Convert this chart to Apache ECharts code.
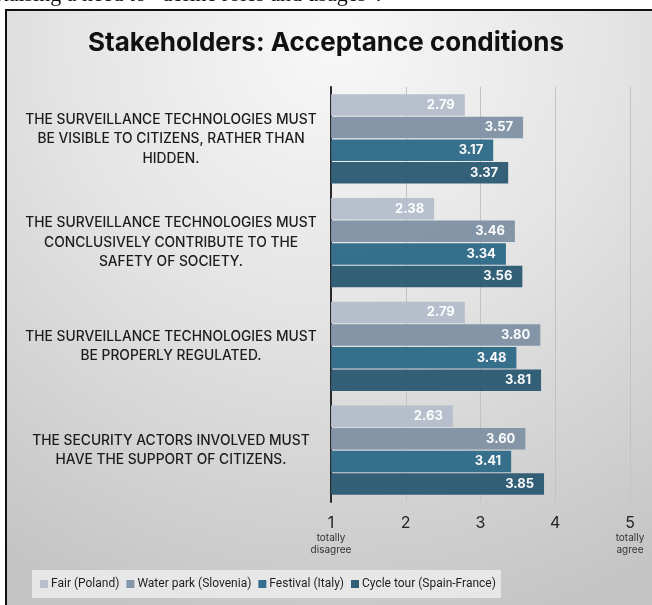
<!DOCTYPE html>
<html>
<head>
<meta charset="utf-8">
<script src="https://cdn.jsdelivr.net/npm/echarts@6/dist/echarts.min.js"></script>
<style>
  html, body { margin: 0; padding: 0; background: #ffffff; }
  #chart { width: 652px; height: 605px; }
</style>
</head>
<body>
<div id="chart"></div>
<script>
// Statements rated by stakeholders (1 = totally disagree, 5 = totally agree)
const categories = [
  'THE SURVEILLANCE TECHNOLOGIES MUST\nBE VISIBLE TO CITIZENS, RATHER THAN\nHIDDEN.',
  'THE SURVEILLANCE TECHNOLOGIES MUST\nCONCLUSIVELY CONTRIBUTE TO THE\nSAFETY OF SOCIETY.',
  'THE SURVEILLANCE TECHNOLOGIES MUST\nBE PROPERLY REGULATED.',
  'THE SECURITY ACTORS INVOLVED MUST\nHAVE THE SUPPORT OF CITIZENS.'
];

const seriesNames = ['Fair (Poland)', 'Water park (Slovenia)', 'Festival (Italy)', 'Cycle tour (Spain-France)'];

const fairPoland = [2.79, 2.38, 2.79, 2.63];
const waterParkSlovenia = [3.57, 3.46, 3.80, 3.60];
const festivalItaly = [3.17, 3.34, 3.48, 3.41];
const cycleTourSpainFrance = [3.37, 3.56, 3.81, 3.85];

const scaleTicks = { 1: 'totally\ndisagree', 5: 'totally\nagree' };

const seriesValues = [fairPoland, waterParkSlovenia, festivalItaly, cycleTourSpainFrance];
const seriesColors = ['#b5bdcb', '#7f92a4', '#2f6a87', '#2c5b73'];

const chart = echarts.init(document.getElementById('chart'), null, { renderer: 'canvas' });

const series = seriesNames.map((name, i) => ({
  name: name,
  type: 'bar',
  data: seriesValues[i],
  barGap: '5%',
  barCategoryGap: '14%',
  itemStyle: { color: seriesColors[i], opacity: 0.96 },
  label: {
    show: true,
    position: 'insideRight',
    distance: 10,
    color: '#ffffff',
    fontFamily: 'Inter',
    fontWeight: 'bold',
    fontSize: 13,
    formatter: p => p.value.toFixed(2)
  }
}));

chart.setOption({
  animation: false,
  backgroundColor: '#ffffff',
  graphic: [
    {
      type: 'rect',
      z: -10,
      silent: true,
      shape: { x: 6, y: 10, width: 660, height: 610 },
      style: {
        fill: new echarts.graphic.RadialGradient(0.5, 0.05, 1.0, [
          { offset: 0, color: '#f8f8f8' },
          { offset: 0.45, color: '#e4e4e4' },
          { offset: 1, color: '#c4c4c4' }
        ]),
        stroke: '#111111',
        lineWidth: 2
      }
    },
    {
      type: 'text',
      silent: true,
      left: -6,
      top: -16,
      style: {
        text: 'Raising a need to \u201cdefine roles and usages\u201d.',
        font: '22px "Liberation Serif"',
        fill: '#111111'
      }
    }
  ],
  title: {
    text: 'Stakeholders: Acceptance conditions',
    left: 'center',
    top: 25,
    textStyle: {
      fontFamily: 'Inter',
      fontWeight: 'bold',
      fontSize: 26,
      color: '#111111'
    }
  },
  legend: {
    data: seriesNames,
    left: 32,
    top: 570,
    itemWidth: 8,
    itemHeight: 8,
    itemGap: 7,
    icon: 'rect',
    padding: [7, 5, 7, 8],
    backgroundColor: 'rgba(236,236,236,0.85)',
    textStyle: {
      fontFamily: 'Roboto',
      fontSize: 12,
      lineHeight: 14,
      color: '#1e1e1e',
      padding: [0, 0, 0, -2]
    }
  },
  grid: {
    left: 331,
    right: 22,
    top: 87,
    bottom: 103,
    containLabel: false
  },
  xAxis: {
    type: 'value',
    min: 1,
    max: 5,
    interval: 1,
    axisLine: { show: false },
    axisTick: { show: false },
    splitLine: { show: true, lineStyle: { color: '#c2c2c2', width: 1 } },
    axisLabel: {
      margin: 12,
      verticalAlign: 'top',
      lineHeight: 18,
      formatter: v => scaleTicks[v] ? v + '\n{s|' + scaleTicks[v].replace('\n', '}\n{s|') + '}' : String(v),
      fontFamily: 'Inter',
      fontSize: 16,
      color: '#222222',
      rich: {
        s: { fontFamily: 'Inter', fontSize: 10, lineHeight: 12, color: '#333333' }
      }
    }
  },
  yAxis: {
    type: 'category',
    inverse: true,
    data: categories,
    axisLine: { show: true, onZero: false, lineStyle: { color: '#2a2a2a', width: 2 } },
    axisTick: { show: false },
    axisLabel: {
      align: 'center',
      margin: 160,
      lineHeight: 19.5,
      fontFamily: 'Inter',
      fontSize: 13.8,
      fontWeight: 500,
      color: '#1c1c1c'
    }
  },
  series: series
});
</script>
</body>
</html>
